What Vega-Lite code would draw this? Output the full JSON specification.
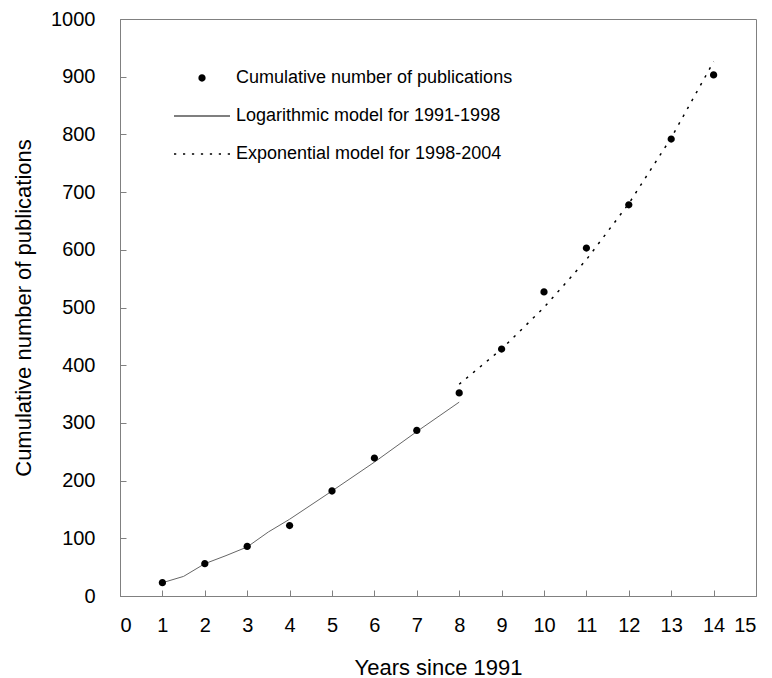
{
  "$schema": "https://vega.github.io/schema/vega-lite/v6.json",
  "width": 636,
  "height": 577,
  "autosize": {"type": "none"},
  "padding": {"left": 120, "top": 19, "right": 16, "bottom": 82},
  "background": "white",
  "config": {
    "font": "Liberation Sans",
    "view": {"stroke": "#808080", "strokeWidth": 1},
    "axis": {
      "grid": false,
      "zindex": 1,
      "ticks": true,
      "domainColor": "#808080",
      "tickColor": "#808080",
      "tickOpacity": 1,
      "tickWidth": 1,
      "labelColor": "black",
      "titleColor": "black",
      "labelFont": "Liberation Sans",
      "titleFont": "Liberation Sans",
      "labelFontSize": 20,
      "titleFontSize": 22,
      "titleFontWeight": "normal",
      "tickSize": -6
    }
  },
  "datasets": {
    "obs": [
      {"year": 1, "count": 23},
      {"year": 2, "count": 56},
      {"year": 3, "count": 86},
      {"year": 4, "count": 122},
      {"year": 5, "count": 182},
      {"year": 6, "count": 239},
      {"year": 7, "count": 287},
      {"year": 8, "count": 352},
      {"year": 9, "count": 428},
      {"year": 10, "count": 527},
      {"year": 11, "count": 603},
      {"year": 12, "count": 678},
      {"year": 13, "count": 792},
      {"year": 14, "count": 903}
    ],
    "logmodel": [
      {"year": 1, "count": 23},
      {"year": 1.5, "count": 34},
      {"year": 2, "count": 56},
      {"year": 2.5, "count": 70},
      {"year": 3, "count": 85},
      {"year": 3.5, "count": 111},
      {"year": 4, "count": 133},
      {"year": 5, "count": 182},
      {"year": 6, "count": 232},
      {"year": 7, "count": 285},
      {"year": 8, "count": 336}
    ],
    "expmodel": [
      {"year": 8, "count": 367},
      {"year": 9, "count": 428},
      {"year": 10, "count": 500},
      {"year": 11, "count": 583},
      {"year": 12, "count": 680},
      {"year": 13, "count": 794},
      {"year": 14, "count": 926}
    ]
  },
  "encoding": {
    "x": {
      "field": "year",
      "type": "quantitative",
      "scale": {"domain": [0, 15], "nice": false},
      "axis": {
        "title": "Years since 1991",
        "values": [0, 1, 2, 3, 4, 5, 6, 7, 8, 9, 10, 11, 12, 13, 14, 15],
        "labelPadding": 25,
        "titlePadding": 22,
        "encode": {"ticks": {"y2": {"value": -6}}}
      }
    },
    "y": {
      "field": "count",
      "type": "quantitative",
      "scale": {"domain": [0, 1000], "nice": false},
      "axis": {
        "title": "Cumulative number of publications",
        "format": "d",
        "values": [0, 100, 200, 300, 400, 500, 600, 700, 800, 900, 1000],
        "labelPadding": 31,
        "titlePadding": 15,
        "encode": {"ticks": {"x2": {"value": 6}}}
      }
    }
  },
  "layer": [
    {
      "data": {"name": "logmodel"},
      "mark": {"type": "line", "color": "#666666", "strokeWidth": 1}
    },
    {
      "data": {"name": "expmodel"},
      "mark": {"type": "line", "color": "black", "strokeWidth": 1.5, "strokeDash": [2.5, 6.5]}
    },
    {
      "data": {"name": "obs"},
      "mark": {"type": "point", "filled": true, "color": "black", "opacity": 1, "size": 3136},
      "encoding": {
        "shape": {
          "datum": "Cumulative number of publications",
          "type": "nominal",
          "scale": {
            "domain": ["Cumulative number of publications", "Logarithmic model for 1991-1998", "Exponential model for 1998-2004"],
            "range": [
              "M0.13,0A0.13,0.13,0,1,1,-0.13,0A0.13,0.13,0,1,1,0.13,0Z",
              "M-1,-0.018L1,-0.018L1,0.018L-1,0.018Z",
              "M-1,-0.027h0.08v0.054h-0.08ZM-0.68,-0.027h0.08v0.054h-0.08ZM-0.36,-0.027h0.08v0.054h-0.08ZM-0.04,-0.027h0.08v0.054h-0.08ZM0.28,-0.027h0.08v0.054h-0.08ZM0.6,-0.027h0.08v0.054h-0.08ZM0.92,-0.027h0.08v0.054h-0.08Z"
            ]
          },
          "legend": {
            "title": null,
            "orient": "none",
            "legendX": 53,
            "legendY": 30,
            "padding": 0,
            "labelFont": "Liberation Sans",
            "labelFontSize": 18,
            "labelColor": "black",
            "labelOffset": 5,
            "labelLimit": 400,
            "symbolSize": 3136,
            "symbolStrokeWidth": 1.5,
            "symbolFillColor": "black",
            "symbolOffset": 0,
            "rowPadding": -12
          }
        }
      }
    }
  ]
}
